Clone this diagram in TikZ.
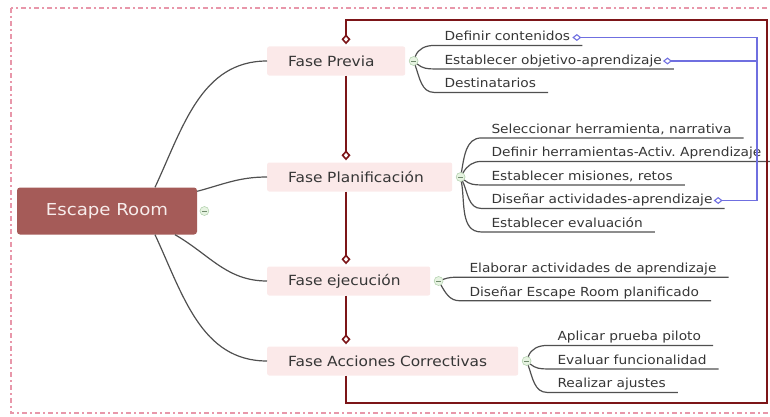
\documentclass[tikz,border=0pt]{standalone}
\usepackage{fontspec}
\setmainfont{DejaVu Sans}[FakeStretch=1.1]
\usepackage{xcolor}
\usepackage{tikz}
\usetikzlibrary{matrix,arrows.meta,positioning}
\definecolor{rootred}{HTML}{A55B58}
\definecolor{rootink}{HTML}{F7ECEB}
\definecolor{phasefill}{HTML}{FBE9E9}
\definecolor{inkgray}{HTML}{363636}
\definecolor{branchgray}{HTML}{505050}
\definecolor{flowred}{HTML}{7C1518}
\definecolor{relblue}{HTML}{6F6FE0}
\definecolor{framepink}{HTML}{E897AA}
\definecolor{knobline}{HTML}{9FC59A}
\definecolor{knobfill}{HTML}{E6F3E1}
\frenchspacing

\begin{document}
\begin{tikzpicture}[x=1pt,y=1pt,
root/.style={fill=rootred, text=rootink, rounded corners=3pt,
  minimum width=180pt, minimum height=47pt, font=\fontsize{16.5}{19}\selectfont},
phase/.style={fill=phasefill, text=inkgray, rounded corners=2pt, anchor=west,
  minimum height=29pt, inner xsep=21pt, align=left, font=\fontsize{14}{16}\selectfont},
knob/.style={circle, draw=knobline, fill=knobfill, minimum size=9pt, inner sep=0pt,
  path picture={\draw[knobline!70!black, line width=0.5pt]
  ([xshift=-2.5pt]path picture bounding box.center) -- ([xshift=2.5pt]path picture bounding box.center);}},
leaf/.style={text=inkgray, inner xsep=0pt, inner ysep=1.5pt, text height=9.5pt,
  text depth=3pt, anchor=west, font=\fontsize{12.5}{14}\selectfont},
leafgroup/.style={matrix of nodes, nodes={leaf}, row sep=8pt, inner sep=0pt},
branch/.style={draw=branchgray, line width=1.2pt},
flow/.style={draw=flowred, line width=1.7pt,
  -{Diamond[open,length=10pt,width=9pt,line width=1.6pt]}, shorten >=2pt},
relink/.style={draw=relblue, line width=1.1pt},
reltip/.tip={Diamond[open,length=9pt,width=7pt,line width=1.1pt]}]
\useasboundingbox (0,0) rectangle (770,416);
\draw[framepink, line width=2.8pt, dash pattern=on 5pt off 3pt on 2pt off 3pt]
  (11,408) rectangle (790,3);

% central topic and phases
\node[root] (root) at (107,205) {Escape Room};
\node[knob, right=2.5pt of root] (cRoot) {};
\node[phase, text width=96pt] (previa) at (267,355) {Fase Previa};
\node[phase, text width=143pt] (plan) at (267,239) {Fase Planificación};
\node[phase, text width=121pt] (ejec) at (267,135) {Fase ejecución};
\node[phase, text width=209pt] (acc) at (267,55) {Fase Acciones Correctivas};
\node[knob, right=3.5pt of previa] (cPrev) {};
\node[knob, right=3.5pt of plan] (cPlan) {};
\node[knob, right=3.5pt of ejec] (cEjec) {};
\node[knob, right=3.5pt of acc] (cAcc) {};

% subtopics
\matrix (mPrev) [leafgroup, right=26pt of cPrev]
{Definir contenidos\\
Establecer objetivo-aprendizaje\\
Destinatarios\\};
\matrix (mPlan) [leafgroup, right=26pt of cPlan]
{Seleccionar herramienta, narrativa\\
Definir herramientas-Activ. Aprendizaje\\
Establecer misiones, retos\\
Diseñar actividades-aprendizaje\\
Establecer evaluación\\};
\matrix (mEjec) [leafgroup, right=26pt of cEjec]
{Elaborar actividades de aprendizaje\\
Diseñar Escape Room planificado\\};
\matrix (mAcc) [leafgroup, right=26pt of cAcc]
{Aplicar prueba piloto\\
Evaluar funcionalidad\\
Realizar ajustes\\};

\draw[branch] ([xshift=48pt]root.north) to[out=65,in=180] (previa.west);
\draw[branch] ([yshift=-4pt]root.north east) to[out=15,in=180] (plan.west);
\draw[branch] ([xshift=68pt]root.south) to[out=-30,in=180] (ejec.west);
\draw[branch] ([xshift=48pt]root.south) to[out=-65,in=180] (acc.west);

\foreach \r/\o in {1/70,2/-40,3/-70}
  \draw[branch] (cPrev) to[out=\o,in=180] ([xshift=-10pt]mPrev-\r-1.south west)
    -- ([xshift=12pt]mPrev-\r-1.south east);
\foreach \r/\o in {1/80,2/60,3/-40,4/-65,5/-80}
  \draw[branch] (cPlan) to[out=\o,in=180] ([xshift=-10pt]mPlan-\r-1.south west)
    -- ([xshift=12pt]mPlan-\r-1.south east);
\foreach \r/\o in {1/20,2/-60}
  \draw[branch] (cEjec) to[out=\o,in=180] ([xshift=-10pt]mEjec-\r-1.south west)
    -- ([xshift=12pt]mEjec-\r-1.south east);
\foreach \r/\o in {1/70,2/-40,3/-70}
  \draw[branch] (cAcc) to[out=\o,in=180] ([xshift=-10pt]mAcc-\r-1.south west)
    -- ([xshift=12pt]mAcc-\r-1.south east);

% sequence of phases
\coordinate (spine) at (346,0);
\coordinate (loopNE) at (767,396);
\coordinate (loopSE) at (767,13);
\draw[flow] (previa.south -| spine) -- (plan.north -| spine);
\draw[flow] (plan.south -| spine) -- (ejec.north -| spine);
\draw[flow] (ejec.south -| spine) -- (acc.north -| spine);
\draw[flow] (acc.south -| spine) |- (loopSE) -- (loopNE) -| (previa.north -| spine);

% relationships
\coordinate (bus) at (757,0);
\draw[relink, reltip-reltip] ([xshift=1pt]mPlan-4-1.east) -| (bus |- mPrev-1-1.east)
  -- ([xshift=2pt]mPrev-1-1.east);
\draw[relink, -reltip] (bus |- mPrev-2-1.east) -- ([xshift=1pt]mPrev-2-1.east);
\end{tikzpicture}
\end{document}
